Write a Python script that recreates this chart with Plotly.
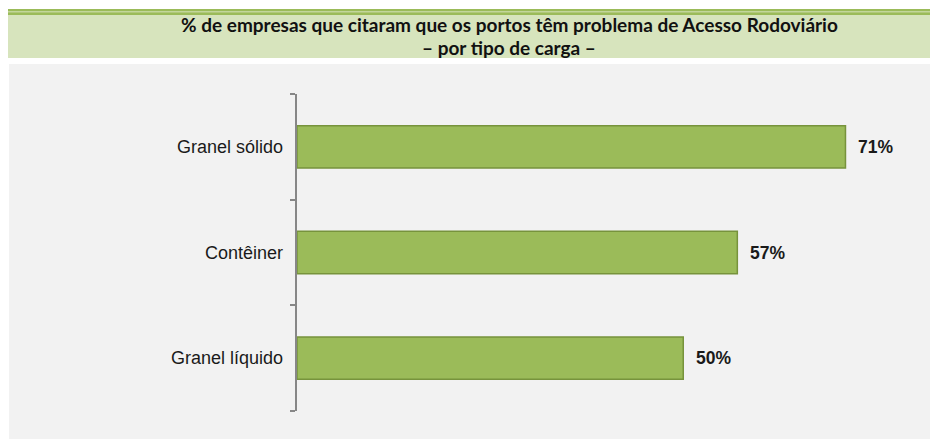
import plotly.graph_objects as go

categories = ["Granel sólido", "Contêiner", "Granel líquido"]
values = [71, 57, 50]
value_labels = ["71%", "57%", "50%"]
title_line1 = "% de empresas que citaram que os portos têm problema de Acesso Rodoviário"
title_line2 = "– por tipo de carga –"

W, H = 930, 439
L, R, T, B = 297, 15, 94, 28
PW, PH = W - L - R, H - T - B

def px(x):
    return (x - L) / PW

def py(y):
    return (H - B - y) / PH

fig = go.Figure()
fig.add_trace(go.Bar(
    y=categories, x=values, orientation="h",
    marker=dict(color="#9bbb59", line=dict(color="#77933c", width=1.5)),
    hoverinfo="skip",
))

for c, v, t in zip(categories, values, value_labels):
    fig.add_annotation(x=v, y=c, text="<b>%s</b>" % t, showarrow=False,
                       xanchor="left", xshift=11,
                       font=dict(family="Liberation Sans, Arial", size=17.5, color="#1a1a1a"))

for c in categories:
    fig.add_annotation(x=0, y=c, text=c, showarrow=False, xanchor="right", xshift=-12,
                       font=dict(family="Liberation Sans, Arial", size=18, color="#1a1a1a"))

shapes = [
    dict(type="rect", xref="paper", yref="paper", x0=px(9), x1=px(930), y0=py(439), y1=py(64),
         fillcolor="#f2f2f2", line=dict(width=0), layer="below"),
    dict(type="rect", xref="paper", yref="paper", x0=px(8), x1=px(930), y0=py(58), y1=py(14),
         fillcolor="#d7e4bd", line=dict(width=0), layer="below"),
    dict(type="rect", xref="paper", yref="paper", x0=px(8), x1=px(930), y0=py(15), y1=py(9),
         fillcolor="#9bbb59", line=dict(width=0), layer="below"),
    dict(type="rect", xref="paper", yref="paper", x0=px(8), x1=px(930), y0=py(12.5), y1=py(11),
         fillcolor="#c3d69b", line=dict(width=0), layer="below"),
]

fig.add_annotation(xref="paper", yref="paper", x=px(509), y=py(24), text="<b>%s</b>" % title_line1,
                   showarrow=False, xanchor="center", yanchor="middle",
                   font=dict(family="Lato", size=19, color="#111111"))
fig.add_annotation(xref="paper", yref="paper", x=px(509), y=py(47), text="<b>%s</b>" % title_line2,
                   showarrow=False, xanchor="center", yanchor="middle",
                   font=dict(family="Lato", size=19, color="#111111"))

fig.update_layout(
    width=W, height=H,
    margin=dict(l=L, r=R, t=T, b=B, pad=0),
    paper_bgcolor="white", plot_bgcolor="rgba(0,0,0,0)",
    showlegend=False, bargap=0.6,
    shapes=shapes,
)
fig.update_xaxes(range=[0, 80], visible=False, showgrid=False, zeroline=False)
fig.update_yaxes(range=[2.5, -0.5], autorange=False, showgrid=False, zeroline=False,
                 showline=True, linecolor="#878787", linewidth=2,
                 ticks="outside", ticklen=5, tickcolor="#878787", tickwidth=2,
                 tickmode="array", tickvals=[-0.5, 0.5, 1.5, 2.5], ticktext=["", "", "", ""])

fig.write_html("out.html", config={"displayModeBar": False},
               post_script="document.body.style.margin='0';document.body.style.overflow='hidden';")
